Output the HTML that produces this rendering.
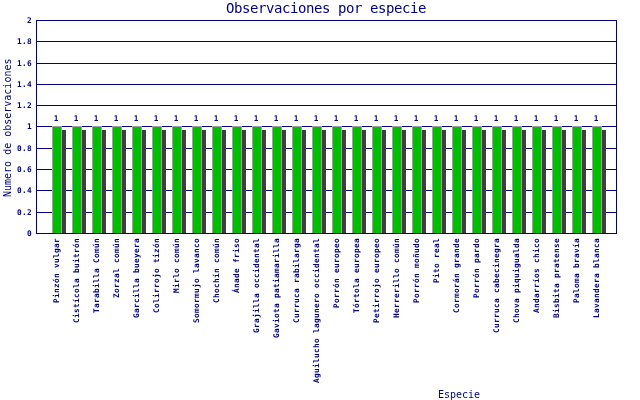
<!DOCTYPE html>
<html lang="es">
<head>
<meta charset="utf-8">
<title>Observaciones por especie</title>
<style>
html,body{margin:0;padding:0;background:#fff;}
body{width:640px;height:400px;position:relative;overflow:hidden;color:#000080;font-family:"DejaVu Sans Mono","Liberation Mono",monospace;}
.a{position:absolute;}
.t{position:absolute;white-space:pre;line-height:1;}
.title{left:226px;top:1px;width:220px;font-size:14px;letter-spacing:-0.428px;text-align:left;}
.g{position:absolute;left:36px;width:581px;height:1px;background:#000080;}
.v{position:absolute;top:20px;width:1px;height:214px;background:#000080;}
.yl{font-size:7.75px;letter-spacing:0.33px;font-weight:bold;width:30px;text-align:right;left:2px;}
.b{position:absolute;top:126px;width:8px;height:106px;background:#00bf00;border:1px solid #a0a0a0;border-bottom:none;}
.s{position:absolute;top:130px;width:4px;height:103px;background:#3f3f3f;}
.n{font-size:7.75px;font-weight:bold;width:10px;text-align:center;top:115px;}
.xl{font-size:7.75px;letter-spacing:0.33px;font-weight:bold;transform-origin:0 0;transform:rotate(-90deg);text-align:right;width:160px;height:8px;}
.yt{font-size:10px;transform-origin:0 0;transform:rotate(-90deg);left:3px;top:197px;width:138px;}
.xt{font-size:10px;left:438px;top:390px;}
</style>
</head>
<body>
<div class="t title">Observaciones por especie</div>
<div class="g" style="top:20px"></div><div class="t yl" style="top:17px">2</div>
<div class="g" style="top:41px"></div><div class="t yl" style="top:38px">1.8</div>
<div class="g" style="top:63px"></div><div class="t yl" style="top:60px">1.6</div>
<div class="g" style="top:84px"></div><div class="t yl" style="top:81px">1.4</div>
<div class="g" style="top:105px"></div><div class="t yl" style="top:102px">1.2</div>
<div class="g" style="top:126px"></div><div class="t yl" style="top:123px">1</div>
<div class="g" style="top:148px"></div><div class="t yl" style="top:145px">0.8</div>
<div class="g" style="top:169px"></div><div class="t yl" style="top:166px">0.6</div>
<div class="g" style="top:190px"></div><div class="t yl" style="top:187px">0.4</div>
<div class="g" style="top:212px"></div><div class="t yl" style="top:209px">0.2</div>
<div class="g" style="top:233px"></div><div class="t yl" style="top:230px">0</div>
<div class="v" style="left:36px"></div><div class="v" style="left:616px"></div>
<div class="s" style="left:62px"></div><div class="b" style="left:52px"></div><div class="t n" style="left:51px">1</div><div class="t xl" style="left:53px;top:398px">Pinzón vulgar</div>
<div class="s" style="left:82px"></div><div class="b" style="left:72px"></div><div class="t n" style="left:71px">1</div><div class="t xl" style="left:73px;top:398px">Cistícola buitrón</div>
<div class="s" style="left:102px"></div><div class="b" style="left:92px"></div><div class="t n" style="left:91px">1</div><div class="t xl" style="left:93px;top:398px">Tarabilla Común</div>
<div class="s" style="left:122px"></div><div class="b" style="left:112px"></div><div class="t n" style="left:111px">1</div><div class="t xl" style="left:113px;top:398px">Zorzal común</div>
<div class="s" style="left:142px"></div><div class="b" style="left:132px"></div><div class="t n" style="left:131px">1</div><div class="t xl" style="left:133px;top:398px">Garcilla bueyera</div>
<div class="s" style="left:162px"></div><div class="b" style="left:152px"></div><div class="t n" style="left:151px">1</div><div class="t xl" style="left:153px;top:398px">Colirrojo tizón</div>
<div class="s" style="left:182px"></div><div class="b" style="left:172px"></div><div class="t n" style="left:171px">1</div><div class="t xl" style="left:173px;top:398px">Mirlo común</div>
<div class="s" style="left:202px"></div><div class="b" style="left:192px"></div><div class="t n" style="left:191px">1</div><div class="t xl" style="left:193px;top:398px">Somormujo lavanco</div>
<div class="s" style="left:222px"></div><div class="b" style="left:212px"></div><div class="t n" style="left:211px">1</div><div class="t xl" style="left:213px;top:398px">Chochín común</div>
<div class="s" style="left:242px"></div><div class="b" style="left:232px"></div><div class="t n" style="left:231px">1</div><div class="t xl" style="left:233px;top:398px">Ánade friso</div>
<div class="s" style="left:262px"></div><div class="b" style="left:252px"></div><div class="t n" style="left:251px">1</div><div class="t xl" style="left:253px;top:398px">Grajilla occidental</div>
<div class="s" style="left:282px"></div><div class="b" style="left:272px"></div><div class="t n" style="left:271px">1</div><div class="t xl" style="left:273px;top:398px">Gaviota patiamarilla</div>
<div class="s" style="left:302px"></div><div class="b" style="left:292px"></div><div class="t n" style="left:291px">1</div><div class="t xl" style="left:293px;top:398px">Curruca rabilarga</div>
<div class="s" style="left:322px"></div><div class="b" style="left:312px"></div><div class="t n" style="left:311px">1</div><div class="t xl" style="left:313px;top:398px">Aguilucho lagunero occidental</div>
<div class="s" style="left:342px"></div><div class="b" style="left:332px"></div><div class="t n" style="left:331px">1</div><div class="t xl" style="left:333px;top:398px">Porrón europeo</div>
<div class="s" style="left:362px"></div><div class="b" style="left:352px"></div><div class="t n" style="left:351px">1</div><div class="t xl" style="left:353px;top:398px">Tórtola europea</div>
<div class="s" style="left:382px"></div><div class="b" style="left:372px"></div><div class="t n" style="left:371px">1</div><div class="t xl" style="left:373px;top:398px">Petirrojo europeo</div>
<div class="s" style="left:402px"></div><div class="b" style="left:392px"></div><div class="t n" style="left:391px">1</div><div class="t xl" style="left:393px;top:398px">Herrerillo común</div>
<div class="s" style="left:422px"></div><div class="b" style="left:412px"></div><div class="t n" style="left:411px">1</div><div class="t xl" style="left:413px;top:398px">Porrón moñudo</div>
<div class="s" style="left:442px"></div><div class="b" style="left:432px"></div><div class="t n" style="left:431px">1</div><div class="t xl" style="left:433px;top:398px">Pito real</div>
<div class="s" style="left:462px"></div><div class="b" style="left:452px"></div><div class="t n" style="left:451px">1</div><div class="t xl" style="left:453px;top:398px">Cormorán grande</div>
<div class="s" style="left:482px"></div><div class="b" style="left:472px"></div><div class="t n" style="left:471px">1</div><div class="t xl" style="left:473px;top:398px">Porrón pardo</div>
<div class="s" style="left:502px"></div><div class="b" style="left:492px"></div><div class="t n" style="left:491px">1</div><div class="t xl" style="left:493px;top:398px">Curruca cabecinegra</div>
<div class="s" style="left:522px"></div><div class="b" style="left:512px"></div><div class="t n" style="left:511px">1</div><div class="t xl" style="left:513px;top:398px">Chova piquigualda</div>
<div class="s" style="left:542px"></div><div class="b" style="left:532px"></div><div class="t n" style="left:531px">1</div><div class="t xl" style="left:533px;top:398px">Andarríos chico</div>
<div class="s" style="left:562px"></div><div class="b" style="left:552px"></div><div class="t n" style="left:551px">1</div><div class="t xl" style="left:553px;top:398px">Bisbita pratense</div>
<div class="s" style="left:582px"></div><div class="b" style="left:572px"></div><div class="t n" style="left:571px">1</div><div class="t xl" style="left:573px;top:398px">Paloma bravía</div>
<div class="s" style="left:602px"></div><div class="b" style="left:592px"></div><div class="t n" style="left:591px">1</div><div class="t xl" style="left:593px;top:398px">Lavandera blanca</div>
<div class="g" style="top:233px"></div>
<div class="t yt">Numero de observaciones</div>
<div class="t xt">Especie</div>
</body>
</html>
